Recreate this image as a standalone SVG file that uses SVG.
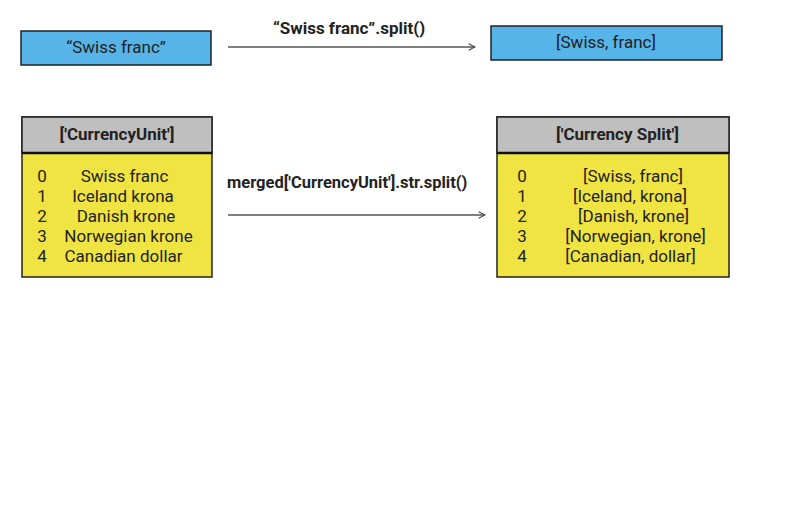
<svg xmlns="http://www.w3.org/2000/svg" width="786" height="507" viewBox="0 0 786 507">
<defs>
<marker id="arr" viewBox="0 0 10 10" refX="9" refY="5" markerWidth="8" markerHeight="8" markerUnits="userSpaceOnUse" orient="auto">
<path d="M1,1 L9,5 L1,9" fill="none" stroke="#444" stroke-width="1.3"/>
</marker>
<style>
text{font-family:Roboto,"Liberation Sans",sans-serif;font-size:17px;fill:#222}
.b{font-weight:bold}
.m{text-anchor:middle}
.s{font-size:16.5px}
.blue{fill:#56b4e9;stroke:#222;stroke-width:1.5}
.yel{fill:#f0e442;stroke:#222;stroke-width:1.5}
.hdr{fill:#bfbfbf;stroke:#222;stroke-width:1.5}
.edge{stroke:#555;stroke-width:1.3;fill:none;marker-end:url(#arr)}
</style>
</defs>
<rect width="786" height="507" fill="#fff"/>
<g id="str-node">
<rect class="blue" x="21" y="31" width="190" height="34"/>
<text class="m" x="116" y="53">“Swiss franc”</text>
</g>
<g id="list-node">
<rect class="blue" x="491" y="26" width="231" height="34"/>
<text class="m" x="606" y="48">[Swiss, franc]</text>
</g>
<g id="currencyunit-table">
<rect class="yel" x="22" y="117" width="190" height="160"/>
<rect class="hdr" x="22" y="117" width="190" height="36"/>
<line x1="22" y1="153" x2="212" y2="153" stroke="#111" stroke-width="2.5"/>
<text class="m b" x="117" y="140">['CurrencyUnit']</text>
<text class="m" x="42" y="182">0</text>
<text class="m" x="42" y="202">1</text>
<text class="m" x="42" y="222">2</text>
<text class="m" x="42" y="242">3</text>
<text class="m" x="42" y="262">4</text>
<text class="m" x="124.5" y="182">Swiss franc</text>
<text class="m" x="123" y="202">Iceland krona</text>
<text class="m" x="126" y="222">Danish krone</text>
<text class="m" x="128.5" y="242">Norwegian krone</text>
<text class="m" x="123.5" y="262">Canadian dollar</text>
</g>
<g id="split-table">
<rect class="yel" x="497" y="117" width="232" height="160"/>
<rect class="hdr" x="497" y="117" width="232" height="36"/>
<line x1="497" y1="153" x2="729" y2="153" stroke="#111" stroke-width="2.5"/>
<text class="m b" x="617.5" y="140">['Currency Split']</text>
<text class="m" x="522" y="182">0</text>
<text class="m" x="522" y="202">1</text>
<text class="m" x="522" y="222">2</text>
<text class="m" x="522" y="242">3</text>
<text class="m" x="522" y="262">4</text>
<text class="m" x="633" y="182">[Swiss, franc]</text>
<text class="m" x="630" y="202">[Iceland, krona]</text>
<text class="m" x="633.5" y="222">[Danish, krone]</text>
<text class="m" x="635.5" y="242">[Norwegian, krone]</text>
<text class="m" x="630.5" y="262">[Canadian, dollar]</text>
</g>
<g id="connectors">
<line class="edge" x1="228" y1="47" x2="475" y2="47"/>
<text class="m b" x="349" y="34">“Swiss franc”.split()</text>
<line class="edge" x1="228" y1="215" x2="485" y2="215"/>
<text class="b s" x="227" y="188">merged['CurrencyUnit'].str.split()</text>
</g>
</svg>
